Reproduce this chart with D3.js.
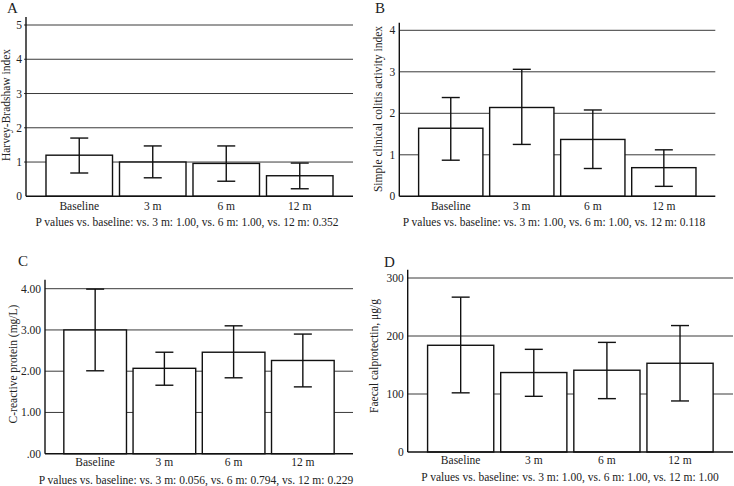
<!DOCTYPE html>
<html><head><meta charset="utf-8">
<script src="https://cdn.jsdelivr.net/npm/d3@7"></script>
<style>body{margin:0;background:#fff}svg{display:block}text{font-family:"Liberation Serif","DejaVu Serif",serif;fill:#222}</style>
</head><body>
<svg id="c" width="734" height="486"></svg>
<script>
const categories = ["Baseline", "3 m", "6 m", "12 m"];

// Panel A: Harvey-Bradshaw index
const hbiMean = [1.20, 1.00, 0.96, 0.60];
const hbiLow  = [0.68, 0.54, 0.44, 0.22];
const hbiHigh = [1.70, 1.47, 1.47, 0.97];
const hbiTicks = [0, 1, 2, 3, 4, 5];
const hbiTickLabels = ["0", "1", "2", "3", "4", "5"];

// Panel B: Simple clinical colitis activity index
const sccaiMean = [1.64, 2.14, 1.37, 0.69];
const sccaiLow  = [0.87, 1.25, 0.67, 0.24];
const sccaiHigh = [2.38, 3.06, 2.08, 1.12];
const sccaiTicks = [0, 1, 2, 3, 4];
const sccaiTickLabels = ["0", "1", "2", "3", "4"];

// Panel C: C-reactive protein
const crpMean = [3.00, 2.07, 2.46, 2.26];
const crpLow  = [2.01, 1.66, 1.84, 1.62];
const crpHigh = [3.99, 2.46, 3.10, 2.90];
const crpTicks = [0, 1, 2, 3, 4];
const crpTickLabels = [".00", "1.00", "2.00", "3.00", "4.00"];

// Panel D: Faecal calprotectin
const fcMean = [184, 137, 141, 153];
const fcLow  = [102, 96, 92, 88];
const fcHigh = [267, 177, 189, 218];
const fcTicks = [0, 100, 200, 300];
const fcTickLabels = ["0", "100", "200", "300"];

const svg = d3.select("#c");

const panels = [
  {letter:"A", lx:7, ly:13, title:"Harvey-Bradshaw index", tx:10, ty:105,
   mean:hbiMean, low:hbiLow, high:hbiHigh, ticks:hbiTicks, tickLabels:hbiTickLabels,
   max:5, x0:26, x1:353, yZero:196.3, yTop:25, axisTop:17, gridStart:24,
   catY:209.5, pText:"P values vs. baseline: vs. 3 m: 1.00, vs. 6 m: 1.00, vs. 12 m: 0.352", px:187, py:226},
  {letter:"B", lx:375, ly:13, title:"Simple clinical colitis activity index", tx:382, ty:109,
   mean:sccaiMean, low:sccaiLow, high:sccaiHigh, ticks:sccaiTicks, tickLabels:sccaiTickLabels,
   max:4, x0:399.3, x1:715.3, yZero:196.3, yTop:30.3, axisTop:22.7, gridStart:399.3,
   catY:209.5, pText:"P values vs. baseline: vs. 3 m: 1.00, vs. 6 m: 1.00, vs. 12 m: 0.118", px:554, py:226},
  {letter:"C", lx:18, ly:266, title:"C-reactive protein (mg/L)", tx:16.5, ty:364,
   mean:crpMean, low:crpLow, high:crpHigh, ticks:crpTicks, tickLabels:crpTickLabels,
   max:4, x0:45, x1:353, yZero:453.7, yTop:288.7, axisTop:279.7, gridStart:45,
   catY:466, pText:"P values vs. baseline: vs. 3 m: 0.056, vs. 6 m: 0.794, vs. 12 m: 0.229", px:196, py:484},
  {letter:"D", lx:384, ly:267, title:"Faecal calprotectin, μg/g", tx:378, ty:356,
   mean:fcMean, low:fcLow, high:fcHigh, ticks:fcTicks, tickLabels:fcTickLabels,
   max:300, x0:407.7, x1:733, yZero:452, yTop:278, axisTop:269.7, gridStart:407.7,
   catY:464, pText:"P values vs. baseline: vs. 3 m: 1.00, vs. 6 m: 1.00, vs. 12 m: 1.00", px:570, py:481}
];

panels.forEach(p => {
  const g = svg.append("g");
  const y = d3.scaleLinear().domain([0, p.max]).range([p.yZero, p.yTop]);
  const x = d3.scaleBand().domain(categories).range([p.x0, p.x1])
    .paddingInner(0.095).paddingOuter(0.272);

  // gridlines
  g.selectAll("line.grid").data(p.ticks.filter(t => t > 0)).join("line")
    .attr("x1", p.gridStart).attr("x2", p.x1)
    .attr("y1", d => y(d)).attr("y2", d => y(d))
    .attr("stroke", "#3a3a3a").attr("stroke-width", 1);

  // tick labels
  g.selectAll("text.tick").data(p.ticks).join("text")
    .attr("x", p.x0 - 4).attr("y", d => y(d) + 4)
    .attr("text-anchor", "end").attr("font-size", 11.5)
    .text((d, i) => p.tickLabels[i]);

  // bars
  g.selectAll("rect.bar").data(p.mean).join("rect")
    .attr("x", (d, i) => x(categories[i]))
    .attr("width", x.bandwidth())
    .attr("y", d => y(d)).attr("height", d => y(0) - y(d))
    .attr("fill", "#fff").attr("stroke", "#111").attr("stroke-width", 1.4);

  // error bars
  const cap = 9;
  p.mean.forEach((m, i) => {
    const cx = x(categories[i]) + x.bandwidth() / 2;
    g.append("line").attr("x1", cx).attr("x2", cx)
      .attr("y1", y(p.low[i])).attr("y2", y(p.high[i]))
      .attr("stroke", "#111").attr("stroke-width", 1.4);
    [p.low[i], p.high[i]].forEach(v => {
      g.append("line").attr("x1", cx - cap).attr("x2", cx + cap)
        .attr("y1", y(v)).attr("y2", y(v))
        .attr("stroke", "#111").attr("stroke-width", 1.4);
    });
  });

  // axes lines
  g.append("line").attr("x1", p.x0).attr("x2", p.x0)
    .attr("y1", p.axisTop).attr("y2", y(0))
    .attr("stroke", "#111").attr("stroke-width", 1.4);
  g.append("line").attr("x1", p.x0).attr("x2", p.x1)
    .attr("y1", y(0)).attr("y2", y(0))
    .attr("stroke", "#111").attr("stroke-width", 1.4);

  // category labels
  g.selectAll("text.cat").data(categories).join("text")
    .attr("x", d => x(d) + x.bandwidth() / 2).attr("y", p.catY)
    .attr("text-anchor", "middle").attr("font-size", 11.5)
    .text(d => d);

  // p value text
  g.append("text").attr("x", p.px).attr("y", p.py)
    .attr("text-anchor", "middle").attr("font-size", 11.5).text(p.pText);

  // y title
  g.append("text").attr("transform", `translate(${p.tx},${p.ty}) rotate(-90)`)
    .attr("text-anchor", "middle").attr("font-size", 11.5).text(p.title);

  // panel letter
  g.append("text").attr("x", p.lx).attr("y", p.ly)
    .attr("font-size", 15).text(p.letter);
});
</script>
</body></html>
